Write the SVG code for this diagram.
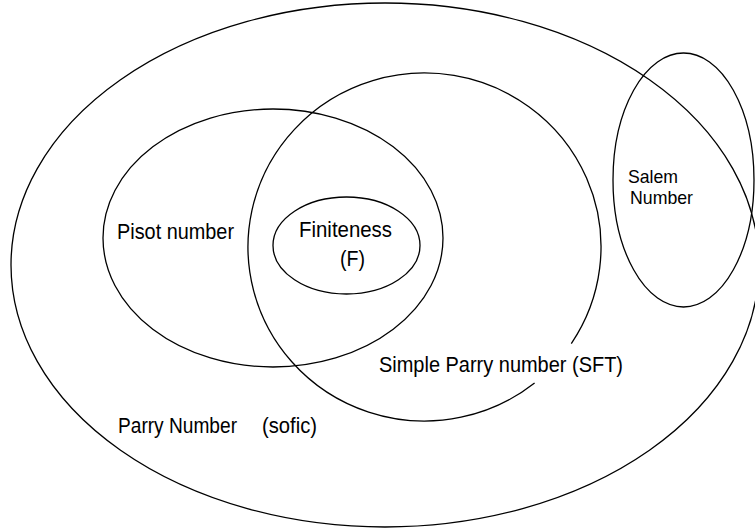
<svg xmlns="http://www.w3.org/2000/svg" width="755" height="531" viewBox="0 0 755 531">
<style>
.set{fill:none;stroke:#000;stroke-width:1.3}
.lbl{font-family:"Liberation Sans",Arial,sans-serif;font-size:21.5px;fill:#000}
.sm{font-size:19px}
</style>
<rect width="755" height="531" fill="#fff"/>
<g id="parry">
<ellipse class="set" cx="385" cy="265" rx="374" ry="262"/>
<text class="lbl" x="118" y="433" textLength="119" lengthAdjust="spacingAndGlyphs">Parry Number</text>
<text class="lbl" x="262" y="433" textLength="55" lengthAdjust="spacingAndGlyphs">(sofic)</text>
</g>
<g id="pisot">
<ellipse class="set" cx="273" cy="238" rx="170" ry="129"/>
<text class="lbl" x="117" y="239" textLength="117" lengthAdjust="spacingAndGlyphs">Pisot number</text>
</g>
<g id="simple-parry">
<path class="set" d="M534.6,383 A176.5,174 0 1 1 571.3,343.6"/>
<text class="lbl" x="379" y="372" textLength="244" lengthAdjust="spacingAndGlyphs">Simple Parry number (SFT)</text>
</g>
<g id="finiteness">
<ellipse class="set" cx="346.5" cy="245.5" rx="73.5" ry="48.5"/>
<text class="lbl" x="299" y="237" textLength="93" lengthAdjust="spacingAndGlyphs">Finiteness</text>
<text class="lbl" x="340" y="266" textLength="25" lengthAdjust="spacingAndGlyphs">(F)</text>
</g>
<g id="salem">
<ellipse class="set" cx="683.5" cy="180" rx="70.5" ry="127"/>
<text class="lbl sm" x="628" y="183" textLength="50" lengthAdjust="spacingAndGlyphs">Salem</text>
<text class="lbl sm" x="630" y="204" textLength="63" lengthAdjust="spacingAndGlyphs">Number</text>
</g>
<g id="connectors"/>
</svg>
